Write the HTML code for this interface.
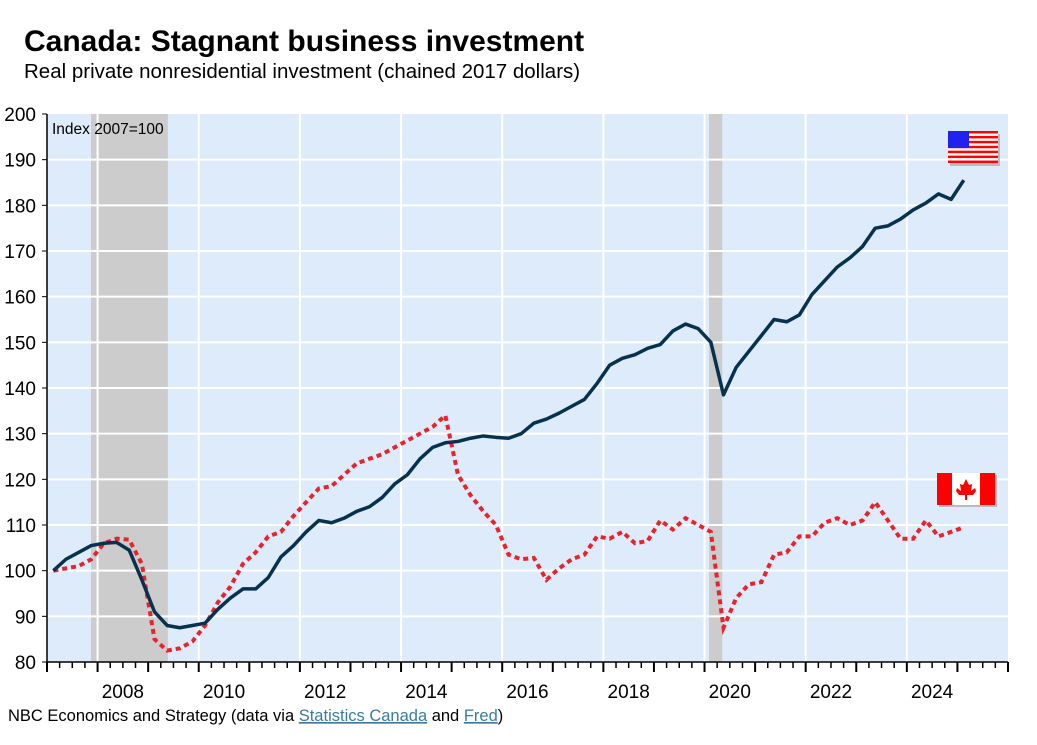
<!DOCTYPE html>
<html><head><meta charset="utf-8"><style>
body{margin:0;background:#fff;font-family:"Liberation Sans",sans-serif;}
svg text{font-family:"Liberation Sans",sans-serif;}
</style></head><body>
<svg width="1037" height="740" xmlns="http://www.w3.org/2000/svg">
<text x="24" y="51" font-size="30" font-weight="bold">Canada: Stagnant business investment</text>
<text x="24" y="78" font-size="20.5">Real private nonresidential investment (chained 2017 dollars)</text>
<rect x="47" y="114" width="961" height="548" fill="#deebfb"/>
<g id="rec"></g><g id="grid"></g><g id="axes"></g><g id="series"></g>
<text x="52" y="134" font-size="15.5">Index 2007=100</text>
<g>
<rect x="950" y="134" width="50" height="32" fill="#bbb"/>
<rect x="948" y="131" width="50" height="32" fill="#fff"/>
<g id="stripes"></g>
<rect x="948" y="131" width="21" height="17" fill="#2222ee"/>
</g>
<g>
<rect x="939" y="475" width="58" height="32" fill="#bbb"/>
<rect x="937" y="473" width="58" height="32" fill="#f00"/>
<rect x="952" y="473" width="28" height="32" fill="#fff"/>
<polygon points="966,479 969,485 972,484 971,491 975,488 976,491 973,495 967,495 967,500 965,500 965,495 959,495 956,491 957,488 961,491 960,484 963,485" fill="#f00"/>
</g>
<text x="8" y="721" font-size="16.5">NBC Economics and Strategy (data via <tspan fill="#3a7d9c" text-decoration="underline">Statistics Canada</tspan> and <tspan fill="#3a7d9c" text-decoration="underline">Fred</tspan>)</text>
</svg>
<script>
const yTicks=[80,90,100,110,120,130,140,150,160,170,180,190,200];
const xLabels=[2008,2010,2012,2014,2016,2018,2020,2022,2024];
const recessions=[[2007.87,2009.39],[2020.09,2020.35]];
const startYear=2007;
const usValues=[100,102.5,104,105.5,106,106.2,104.5,98,91,88,87.5,88,88.5,91.5,94,96,96,98.5,103,105.5,108.5,111,110.5,111.5,113,114,116,119,121,124.5,127,128,128.3,129,129.5,129.2,129,130,132.3,133.2,134.5,136,137.5,141,145,146.5,147.3,148.7,149.5,152.5,154,153,150,138.5,144.5,148,151.5,155,154.5,156,160.5,163.5,166.5,168.5,171,175,175.5,177,179,180.5,182.5,181.3,185.5];
const caValues=[100,100.5,101,102.5,106,107,106.8,101.5,85,82.5,83,84.5,88,93,96.5,101.5,104,107.5,108.5,112,115,118,118.5,121,123.5,124.5,125.5,127,128.5,130,131.5,134,121,116.5,113,110,103.5,102.5,102.8,98,100.5,102.5,103.5,107.5,107,108.5,106,106.5,111,109,111.5,110,108.5,87.5,94,97,97.5,103.5,104,107.5,107.5,110.5,111.5,110,111,115,111,107,107,111,107.5,108.5,109.5];
const NS='http://www.w3.org/2000/svg';
const X0=47,X1=1008,Y0=662,Y1=114;
function xT(t){return X0+(t-2007)*(X1-X0)/19;}
function yV(v){return Y0-(v-80)*(Y0-Y1)/120;}
function xI(i){return xT(startYear+(i+0.5)/4);}
function mk(p,tag,a){const e=document.createElementNS(NS,tag);for(const k in a)e.setAttribute(k,a[k]);document.getElementById(p).appendChild(e);return e;}
recessions.forEach(r=>{const e=mk('rec','rect',{x:xT(r[0]),y:Y1,width:xT(r[1])-xT(r[0]),height:Y0-Y1,fill:'#cccccc'});

});
yTicks.forEach(v=>{if(v>80&&v<200){const e=mk('grid','line',{x1:X0,x2:X1,y1:yV(v),y2:yV(v),stroke:'#fff','stroke-width':2});

}
const t=mk('axes','text',{x:36,y:yV(v)+7,'font-size':19,'text-anchor':'end'});t.textContent=v;


mk('axes','line',{x1:X0-5,x2:X0,y1:yV(v),y2:yV(v),stroke:'#000'});});
xLabels.forEach(y=>{const e=mk('grid','line',{x1:xT(y),x2:xT(y),y1:Y1,y2:Y0,stroke:'#fff','stroke-width':2});


const t=mk('axes','text',{x:xT(y+0.5),y:698,'font-size':19,'text-anchor':'middle'});t.textContent=y;

});
for(let q=0;q<=76;q++){const x=xT(2007+q/4);mk('axes','line',{x1:x,x2:x,y1:Y0,y2:Y0+(q%4==0?10:6),stroke:'#000','stroke-width':q%4==0?2:1.5});}
mk('axes','line',{x1:X0,x2:X1,y1:Y0,y2:Y0,stroke:'#000','stroke-width':1.5});
mk('axes','line',{x1:X0,x2:X0,y1:Y1,y2:Y0,stroke:'#000','stroke-width':1.5});
const ca=mk('series','polyline',{points:caValues.map((v,i)=>xI(i)+','+yV(v)).join(' '),fill:'none',stroke:'#e8232e','stroke-width':4,'stroke-dasharray':'5 4'});


const us=mk('series','polyline',{points:usValues.map((v,i)=>xI(i)+','+yV(v)).join(' '),fill:'none',stroke:'#06324d','stroke-width':3.5,'stroke-linejoin':'round'});


for(let s=0;s<13;s++){if(s%2==0)mk('stripes','rect',{x:948,y:131+s*32/13,width:50,height:32/13,fill:'#f00'});}
</script>
</body></html>
